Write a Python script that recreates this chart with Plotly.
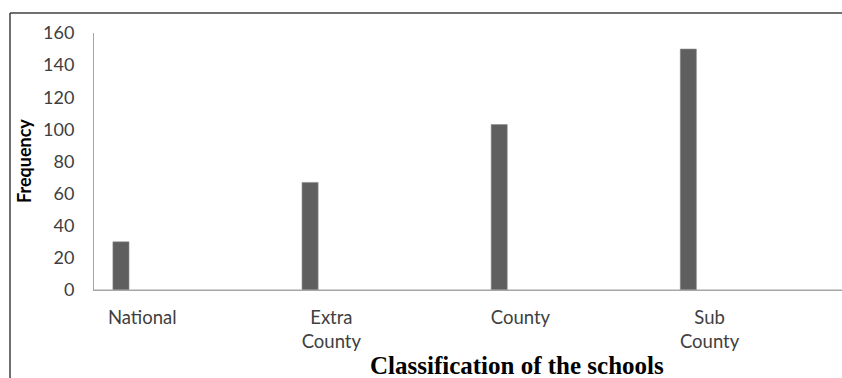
import plotly.graph_objects as go

# Frequency of schools by classification
categories = ["National", "Extra<br>County", "County", "Sub<br>County"]
frequency = [30, 67, 103, 150]
y_ticks = [0, 20, 40, 60, 80, 100, 120, 140, 160]

W, H = 842, 378
L, T, B, R = 94, 33, 88, 0
pw, ph = W - L - R, H - T - B


def px_x(x):
    return (x - L) / pw


def px_y(y):
    return (H - B - y) / ph


fig = go.Figure()
fig.add_trace(go.Bar(
    x=categories,
    y=frequency,
    width=0.085,
    offset=-0.155,
    marker=dict(color="#5f5f5f", line=dict(color="#8a8a8a", width=0.6)),
    hoverinfo="x+y",
))

fig.update_layout(
    width=W, height=H,
    margin=dict(l=L, r=R, t=T, b=B, pad=0),
    paper_bgcolor="white",
    plot_bgcolor="white",
    showlegend=False,
    font=dict(family="Lato, Open Sans, sans-serif", color="#404040", size=18),
    xaxis=dict(
        type="category",
        range=[-0.255, 3.70],
        showgrid=False, zeroline=False,
        showline=True, linecolor="#a6a6a6", linewidth=1,
        ticks="", tickfont=dict(size=18.5, color="#404040"),
        ticklabelstandoff=11,
    ),
    yaxis=dict(
        range=[0, 160],
        tickvals=y_ticks,
        showgrid=False, zeroline=False,
        showline=True, linecolor="#a6a6a6", linewidth=1,
        ticks="", tickfont=dict(size=18, color="#404040"),
        ticklabelstandoff=15,
    ),
    annotations=[
        dict(text="<b>Frequency</b>", textangle=-90,
             xref="paper", yref="paper", x=px_x(24), y=px_y(161),
             xanchor="center", yanchor="middle", showarrow=False,
             font=dict(family="Lato, sans-serif", size=18, color="#000000")),
        dict(text="<b>Classification of the schools</b>",
             xref="paper", yref="paper", x=px_x(517), y=px_y(365),
             xanchor="center", yanchor="middle", showarrow=False,
             font=dict(family="Liberation Serif, Times New Roman, serif",
                       size=25, color="#000000")),
    ],
    shapes=[
        # category axis baseline across the full plot width
        dict(type="line", xref="paper", yref="paper",
             x0=0, x1=px_x(845), y0=0, y1=0,
             line=dict(color="#a6a6a6", width=1)),
        dict(type="line", xref="paper", yref="paper",
             x0=px_x(10), x1=px_x(10), y0=px_y(13), y1=px_y(380),
             line=dict(color="#404040", width=1.5)),
        dict(type="line", xref="paper", yref="paper",
             x0=px_x(10), x1=px_x(845), y0=px_y(13), y1=px_y(13),
             line=dict(color="#404040", width=1.5)),
    ],
)

fig.write_html("out.html")
